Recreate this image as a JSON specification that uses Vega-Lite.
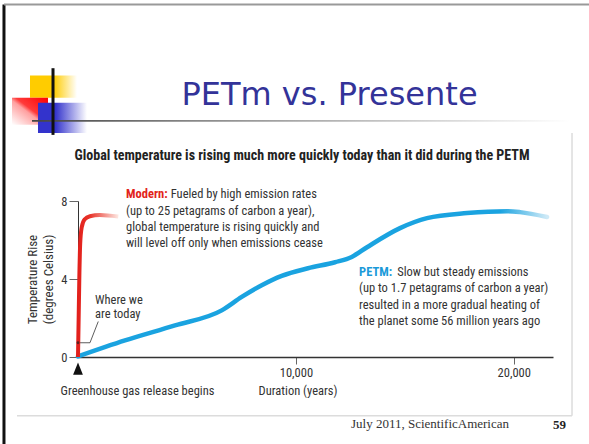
{
  "$schema": "https://vega.github.io/schema/vega-lite/v6.json",
  "autosize": "none",
  "width": 475,
  "height": 156,
  "padding": {"left": 78, "top": 201, "right": 36, "bottom": 87},
  "background": "white",
  "config": {"view": {"stroke": null}},
  "datasets": {
    "blue": [
      {"x": 0, "y": 0.03}, {"x": 2157, "y": 0.85}, {"x": 4452, "y": 1.62}, {"x": 6596, "y": 2.39},
      {"x": 7514, "y": 3.08}, {"x": 8432, "y": 3.68}, {"x": 9350, "y": 4.16}, {"x": 10557, "y": 4.55},
      {"x": 11796, "y": 4.86}, {"x": 12563, "y": 5.13}, {"x": 13265, "y": 5.63}, {"x": 14780, "y": 6.61},
      {"x": 16019, "y": 7.12}, {"x": 17855, "y": 7.38}, {"x": 19691, "y": 7.48}, {"x": 20288, "y": 7.43},
      {"x": 21527, "y": 7.18}
    ],
    "red": [
      {"x": 0, "y": 0}, {"x": 30, "y": 2}, {"x": 60, "y": 4}, {"x": 100, "y": 5.8}, {"x": 170, "y": 6.65},
      {"x": 300, "y": 7.05}, {"x": 550, "y": 7.22}, {"x": 1000, "y": 7.28}, {"x": 1850, "y": 7.2}
    ],
    "leader": [
      {"x": 0, "y": 0.73}, {"x": 550, "y": 0.73}, {"x": 930, "y": 1.82}
    ],
    "labels": [
      {"x": 4255, "y": 8.36, "text": "Fueled by high emission rates", "k": "body"},
      {"x": 2203, "y": 7.48, "text": "(up to 25 petagrams of carbon a year),", "k": "body"},
      {"x": 2203, "y": 6.66, "text": "global temperature is rising quickly and", "k": "body"},
      {"x": 2203, "y": 5.84, "text": "will level off only when emissions cease", "k": "body"},
      {"x": 14650, "y": 4.35, "text": "Slow but steady emissions", "k": "body"},
      {"x": 12898, "y": 3.52, "text": "(up to 1.7 petagrams of carbon a year)", "k": "body"},
      {"x": 12898, "y": 2.65, "text": "resulted in a more gradual heating of", "k": "body"},
      {"x": 12898, "y": 1.83, "text": "the planet some 56 million years ago", "k": "body"},
      {"x": 780, "y": 2.91, "text": "Where we", "k": "body"},
      {"x": 780, "y": 2.19, "text": "are today", "k": "body"},
      {"x": 2203, "y": 8.36, "text": "Modern:", "k": "red"},
      {"x": 12898, "y": 4.35, "text": "PETM:", "k": "blue"},
      {"x": 2731, "y": -1.72, "text": "Greenhouse gas release begins", "k": "bottom"},
      {"x": 10098, "y": -1.72, "text": "Duration (years)", "k": "bottom"},
      {"x": 10281, "y": 10.31, "text": "Global temperature is rising much more quickly today than it did during the PETM", "k": "sub"},
      {"x": 11543, "y": 13.45, "text": "PETm vs. Presente", "k": "title"},
      {"x": 12530, "y": -3.42, "text": "July 2011, ScientificAmerican", "k": "foot"},
      {"x": 21800, "y": -3.47, "text": "59", "k": "page"}
    ],
    "rules": [
      {"x": -3397, "x2": -3397, "y": 18.08, "y2": -4.5, "k": "border"},
      {"x": -1147, "x2": -1147, "y": 14.81, "y2": 11.39, "k": "border"},
      {"x": -3397, "x2": 23453, "y": 18.08, "y2": 18.08, "k": "top"},
      {"x": -2800, "x2": 22673, "y": -3.01, "y2": -3.01, "k": "frame"},
      {"x": 22673, "x2": 22673, "y": 11.49, "y2": -3.01, "k": "frame"}
    ],
    "yellow": [{"x": -2203, "x2": -46, "y": 14.43, "y2": 13.30}],
    "redsq": [{"x": -3029, "x2": -1377, "y": 13.30, "y2": 11.91}],
    "bluesq": [{"x": -1836, "x2": 413, "y": 13.04, "y2": 11.49}],
    "hline": [{"x": -2111, "x2": 22582, "y": 12.16, "y2": 12.06}],
    "tri": [{"x": 0, "y": -0.6}]
  },
  "encoding": {
    "x": {"field": "x", "type": "quantitative", "scale": {"domain": [0, 21800], "nice": false, "zero": false},
      "axis": {"values": [10000, 20000], "labelExpr": "format(datum.value, ',')", "tickSize": 7, "tickColor": "#666", "domainColor": "#333", "domainWidth": 1.5,
        "labelFont": "Liberation Sans Narrow, Roboto Condensed, sans-serif", "labelFontSize": 12.5, "labelColor": "#333", "labelPadding": 2, "grid": false, "title": null}},
    "y": {"field": "y", "type": "quantitative", "scale": {"domain": [0, 8], "nice": false, "zero": false},
      "axis": {"values": [0, 4, 8], "tickSize": 9, "tickColor": "#666", "domainColor": "#333", "domainWidth": 1,
        "labelFont": "Liberation Sans Narrow, Roboto Condensed, sans-serif", "labelFontSize": 12.5, "labelColor": "#333", "labelPadding": 2, "grid": false,
        "title": ["Temperature Rise", "(degrees Celsius)"], "titleFont": "Liberation Sans Narrow, Roboto Condensed, sans-serif", "titleFontSize": 13,
        "titleFontWeight": "normal", "titleColor": "#333", "titlePadding": 5, "titleLineHeight": 16}}
  },
  "layer": [
    {"data": {"name": "yellow"}, "mark": {"type": "rect", "fill": {"gradient": "linear", "x1": 0, "y1": 0, "x2": 1, "y2": 0, "stops": [{"offset": 0, "color": "#ffcc00"}, {"offset": 0.5, "color": "#ffcc00"}, {"offset": 1, "color": "#ffffff"}]}},
      "encoding": {"x2": {"field": "x2"}, "y2": {"field": "y2"}}},
    {"data": {"name": "redsq"}, "mark": {"type": "rect", "fill": {"gradient": "linear", "x1": 1, "y1": 0, "x2": 0, "y2": 1, "stops": [{"offset": 0, "color": "#ff0000"}, {"offset": 0.45, "color": "#ff3a3a"}, {"offset": 0.55, "color": "#ffa0a0"}, {"offset": 1, "color": "#ffffff"}]}},
      "encoding": {"x2": {"field": "x2"}, "y2": {"field": "y2"}}},
    {"data": {"name": "bluesq"}, "mark": {"type": "rect", "fill": {"gradient": "linear", "x1": 0, "y1": 0, "x2": 1, "y2": 0, "stops": [{"offset": 0, "color": "#3333cc"}, {"offset": 0.35, "color": "#3333cc"}, {"offset": 1, "color": "#ffffff"}]}},
      "encoding": {"x2": {"field": "x2"}, "y2": {"field": "y2"}}},
    {"data": {"name": "hline"}, "mark": {"type": "rect", "fill": {"gradient": "linear", "x1": 0, "y1": 0, "x2": 1, "y2": 0, "stops": [{"offset": 0, "color": "#444444"}, {"offset": 0.3, "color": "#888888"}, {"offset": 1, "color": "#ffffff"}]}},
      "encoding": {"x2": {"field": "x2"}, "y2": {"field": "y2"}}},
    {"data": {"name": "rules"}, "transform": [{"filter": "datum.k == 'border'"}], "mark": {"type": "rule", "color": "#111", "strokeWidth": 3},
      "encoding": {"x2": {"field": "x2"}, "y2": {"field": "y2"}}},
    {"data": {"name": "rules"}, "transform": [{"filter": "datum.k == 'top'"}], "mark": {"type": "rule", "color": "#999", "strokeWidth": 2},
      "encoding": {"x2": {"field": "x2"}, "y2": {"field": "y2"}}},
    {"data": {"name": "rules"}, "transform": [{"filter": "datum.k == 'frame'"}], "mark": {"type": "rule", "color": "#dcdcdc", "strokeWidth": 1.5},
      "encoding": {"x2": {"field": "x2"}, "y2": {"field": "y2"}}},
    {"data": {"name": "leader"}, "mark": {"type": "line", "color": "#333", "strokeWidth": 0.8}, "encoding": {}},
    {"data": {"name": "blue"}, "mark": {"type": "line", "interpolate": "monotone", "strokeWidth": 4.5, "strokeCap": "round",
      "stroke": {"gradient": "linear", "x1": 0, "y1": 0, "x2": 1, "y2": 0, "stops": [{"offset": 0, "color": "#1aa3e0"}, {"offset": 0.9, "color": "#1aa3e0"}, {"offset": 1, "color": "#cfeaf7"}]}},
      "encoding": {}},
    {"data": {"name": "red"}, "mark": {"type": "line", "interpolate": "monotone", "strokeWidth": 4,
      "stroke": {"gradient": "linear", "x1": 0, "y1": 0, "x2": 1, "y2": 0, "stops": [{"offset": 0, "color": "#e2201c"}, {"offset": 0.3, "color": "#e8342a"}, {"offset": 1, "color": "#fde8e2"}]}},
      "encoding": {}},
    {"data": {"name": "leader"}, "transform": [{"filter": "datum.x == 0"}], "mark": {"type": "point", "filled": true, "color": "#222", "size": 8}},
    {"data": {"name": "tri"}, "mark": {"type": "point", "shape": "M-0.8,1L0,-1L0.8,1Z", "filled": true, "color": "#111", "size": 150, "opacity": 1}},
    {"data": {"name": "labels"}, "transform": [{"filter": "datum.k == 'body'"}],
      "mark": {"type": "text", "align": "left", "baseline": "middle", "font": "Liberation Sans Narrow, Roboto Condensed, sans-serif", "fontSize": 12.5, "color": "#333"},
      "encoding": {"text": {"field": "text"}}},
    {"data": {"name": "labels"}, "transform": [{"filter": "datum.k == 'red'"}],
      "mark": {"type": "text", "align": "left", "baseline": "middle", "font": "Liberation Sans Narrow, Roboto Condensed, sans-serif", "fontSize": 12.5, "fontWeight": "bold", "color": "#e2231a"},
      "encoding": {"text": {"field": "text"}}},
    {"data": {"name": "labels"}, "transform": [{"filter": "datum.k == 'blue'"}],
      "mark": {"type": "text", "align": "left", "baseline": "middle", "font": "Liberation Sans Narrow, Roboto Condensed, sans-serif", "fontSize": 12.5, "fontWeight": "bold", "color": "#1a9ad9"},
      "encoding": {"text": {"field": "text"}}},
    {"data": {"name": "labels"}, "transform": [{"filter": "datum.k == 'bottom'"}],
      "mark": {"type": "text", "align": "center", "baseline": "middle", "font": "Liberation Sans Narrow, Roboto Condensed, sans-serif", "fontSize": 12.5, "color": "#333"},
      "encoding": {"text": {"field": "text"}}},
    {"data": {"name": "labels"}, "transform": [{"filter": "datum.k == 'sub'"}],
      "mark": {"type": "text", "align": "center", "baseline": "middle", "font": "Liberation Sans Narrow, Roboto Condensed, sans-serif", "fontSize": 14, "fontWeight": "bold", "color": "#222"},
      "encoding": {"text": {"field": "text"}}},
    {"data": {"name": "labels"}, "transform": [{"filter": "datum.k == 'title'"}],
      "mark": {"type": "text", "align": "center", "baseline": "middle", "font": "DejaVu Sans", "fontSize": 32, "color": "#333399"},
      "encoding": {"text": {"field": "text"}}},
    {"data": {"name": "labels"}, "transform": [{"filter": "datum.k == 'foot'"}],
      "mark": {"type": "text", "align": "left", "baseline": "middle", "font": "Liberation Serif", "fontSize": 13, "color": "#333"},
      "encoding": {"text": {"field": "text"}}},
    {"data": {"name": "labels"}, "transform": [{"filter": "datum.k == 'page'"}],
      "mark": {"type": "text", "align": "left", "baseline": "middle", "font": "Liberation Serif", "fontSize": 13, "fontWeight": "bold", "color": "#222"},
      "encoding": {"text": {"field": "text"}}}
  ]
}
